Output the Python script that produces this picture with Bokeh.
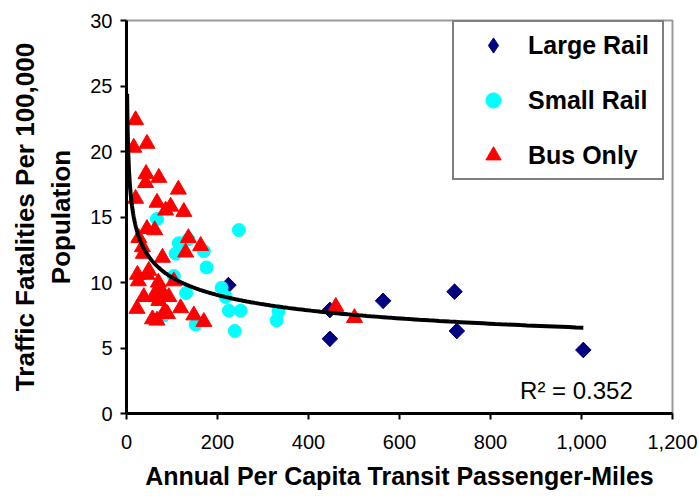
import numpy as np
from bokeh.plotting import figure
from bokeh.models import Label, NumeralTickFormatter, FixedTicker, Legend, LegendItem
from bokeh.embed import file_html
from bokeh.resources import INLINE

# ---------------- data ----------------
large_rail_x = [224, 447, 447, 564, 721, 726, 1004]
large_rail_y = [9.8, 7.9, 5.7, 8.6, 9.3, 6.3, 4.85]

small_rail_x = [67, 247, 115, 136, 108, 170, 176, 104, 131, 209, 218, 225, 251, 334, 330, 238, 152, 82]
small_rail_y = [14.85, 14.0, 13.0, 13.3, 12.2, 12.4, 11.15, 10.5, 9.2, 9.6, 8.9, 7.85, 7.85, 7.8, 7.1, 6.3, 6.8, 7.5]

bus_only_x = [20, 16, 45, 43, 42, 71, 114, 20, 67, 86, 97, 126, 27, 45, 62, 136, 163, 35, 130, 37, 79,
              24, 45, 49, 26, 70, 104, 67, 38, 60, 80, 93, 71, 23, 119, 84, 57, 67, 148, 170, 90, 460, 501]
bus_only_y = [22.4, 20.3, 20.6, 18.3, 17.6, 18.0, 17.1, 16.4, 16.1, 15.5, 15.8, 15.4, 13.4, 14.1, 14.0, 13.4,
              12.8, 12.7, 12.3, 12.2, 11.9, 10.6, 10.6, 10.9, 10.1, 10.0, 10.1, 9.4, 8.9, 8.9, 9.2, 8.9, 8.6,
              8.0, 8.05, 7.8, 7.2, 7.1, 7.5, 7.0, 7.6, 8.15, 7.3]

series_names = ["Large Rail", "Small Rail", "Bus Only"]

# power trendline y = a * x^b (as shown in chart)
trend_a = 26.1
trend_b = -0.2
trend_x_start = 1.4
trend_x_end = 1004
r_squared_text = "R² = 0.352"

x_ticks = [0, 200, 400, 600, 800, 1000, 1200]
y_ticks = [0, 5, 10, 15, 20, 25, 30]

x_title = "Annual Per Capita Transit Passenger-Miles"
y_title = "Traffic Fatalities Per 100,000\nPopulation"

FONT = "Liberation Sans"

# ---------------- figure ----------------
p = figure(width=699, height=496, x_range=(0, 1200), y_range=(0, 30),
           output_backend="svg", toolbar_location=None,
           min_border_left=126, min_border_right=27, min_border_top=20, min_border_bottom=83)
p.background_fill_color = "white"
p.border_fill_color = "white"
p.outline_line_color = "#999999"
p.outline_line_width = 2
p.xgrid.visible = False
p.ygrid.visible = False

# diamond key (drawn underneath the rotated squares, used as the legend swatch)
r_large_key = p.scatter(large_rail_x, large_rail_y, marker="diamond", size=15,
                        fill_color="#000080", line_color="#000080")
r_large = p.scatter(large_rail_x, large_rail_y, marker="square", angle=np.pi / 4, size=11,
                    fill_color="#000080", line_color="#000080")
r_small = p.scatter(small_rail_x, small_rail_y, marker="circle", size=13,
                    fill_color="#00FFFF", line_color="#00FFFF")
r_bus = p.scatter(bus_only_x, bus_only_y, marker="triangle", size=16,
                  fill_color="#FF0000", line_color="#FF0000")

tx = np.geomspace(trend_x_start, trend_x_end, 400)
ty = trend_a * tx ** trend_b
p.line(tx, ty, line_color="black", line_width=4)

p.add_layout(Label(x=865, y=1.79, text=r_squared_text, text_font=FONT,
                   text_font_size="24px", text_color="black", text_baseline="alphabetic"))

# axes
for ax in (p.xaxis[0], p.yaxis[0]):
    ax.axis_line_color = "black"
    ax.axis_line_width = 3
    ax.major_tick_line_color = "black"
    ax.major_tick_line_width = 2
    ax.major_tick_out = 6
    ax.major_tick_in = 0
    ax.minor_tick_line_color = None
    ax.major_label_text_font = FONT
    ax.major_label_text_font_size = "20px"
    ax.major_label_text_color = "black"
    ax.axis_label_text_font = FONT
    ax.axis_label_text_font_style = "bold"
    ax.axis_label_text_color = "black"

p.xaxis.ticker = FixedTicker(ticks=x_ticks)
p.yaxis.ticker = FixedTicker(ticks=y_ticks)
p.xaxis.formatter = NumeralTickFormatter(format="0,0")
p.xaxis.axis_label = x_title
p.yaxis.axis_label = y_title
p.xaxis.axis_label_text_font_size = "25px"
p.yaxis.axis_label_text_font_size = "26px"
p.xaxis.major_label_standoff = 15
p.xaxis.axis_label_standoff = 10
p.yaxis.major_label_standoff = 8
p.yaxis.axis_label_standoff = 11

# legend
lg = Legend(items=[LegendItem(label=series_names[0], renderers=[r_large_key]),
                   LegendItem(label=series_names[1], renderers=[r_small]),
                   LegendItem(label=series_names[2], renderers=[r_bus])])
lg.location = (326, 233)
lg.label_text_font = FONT
lg.label_text_font_style = "bold"
lg.label_text_font_size = "25px"
lg.label_text_color = "black"
lg.border_line_color = "black"
lg.border_line_width = 2.5
lg.background_fill_color = "white"
lg.background_fill_alpha = 1
lg.glyph_width = 70
lg.glyph_height = 38
lg.label_height = 38
lg.label_width = 130
lg.label_standoff = 0
lg.spacing = 17
lg.padding = 4
lg.margin = 0
p.add_layout(lg, "center")

open("out.html", "w").write(file_html(p, INLINE))
